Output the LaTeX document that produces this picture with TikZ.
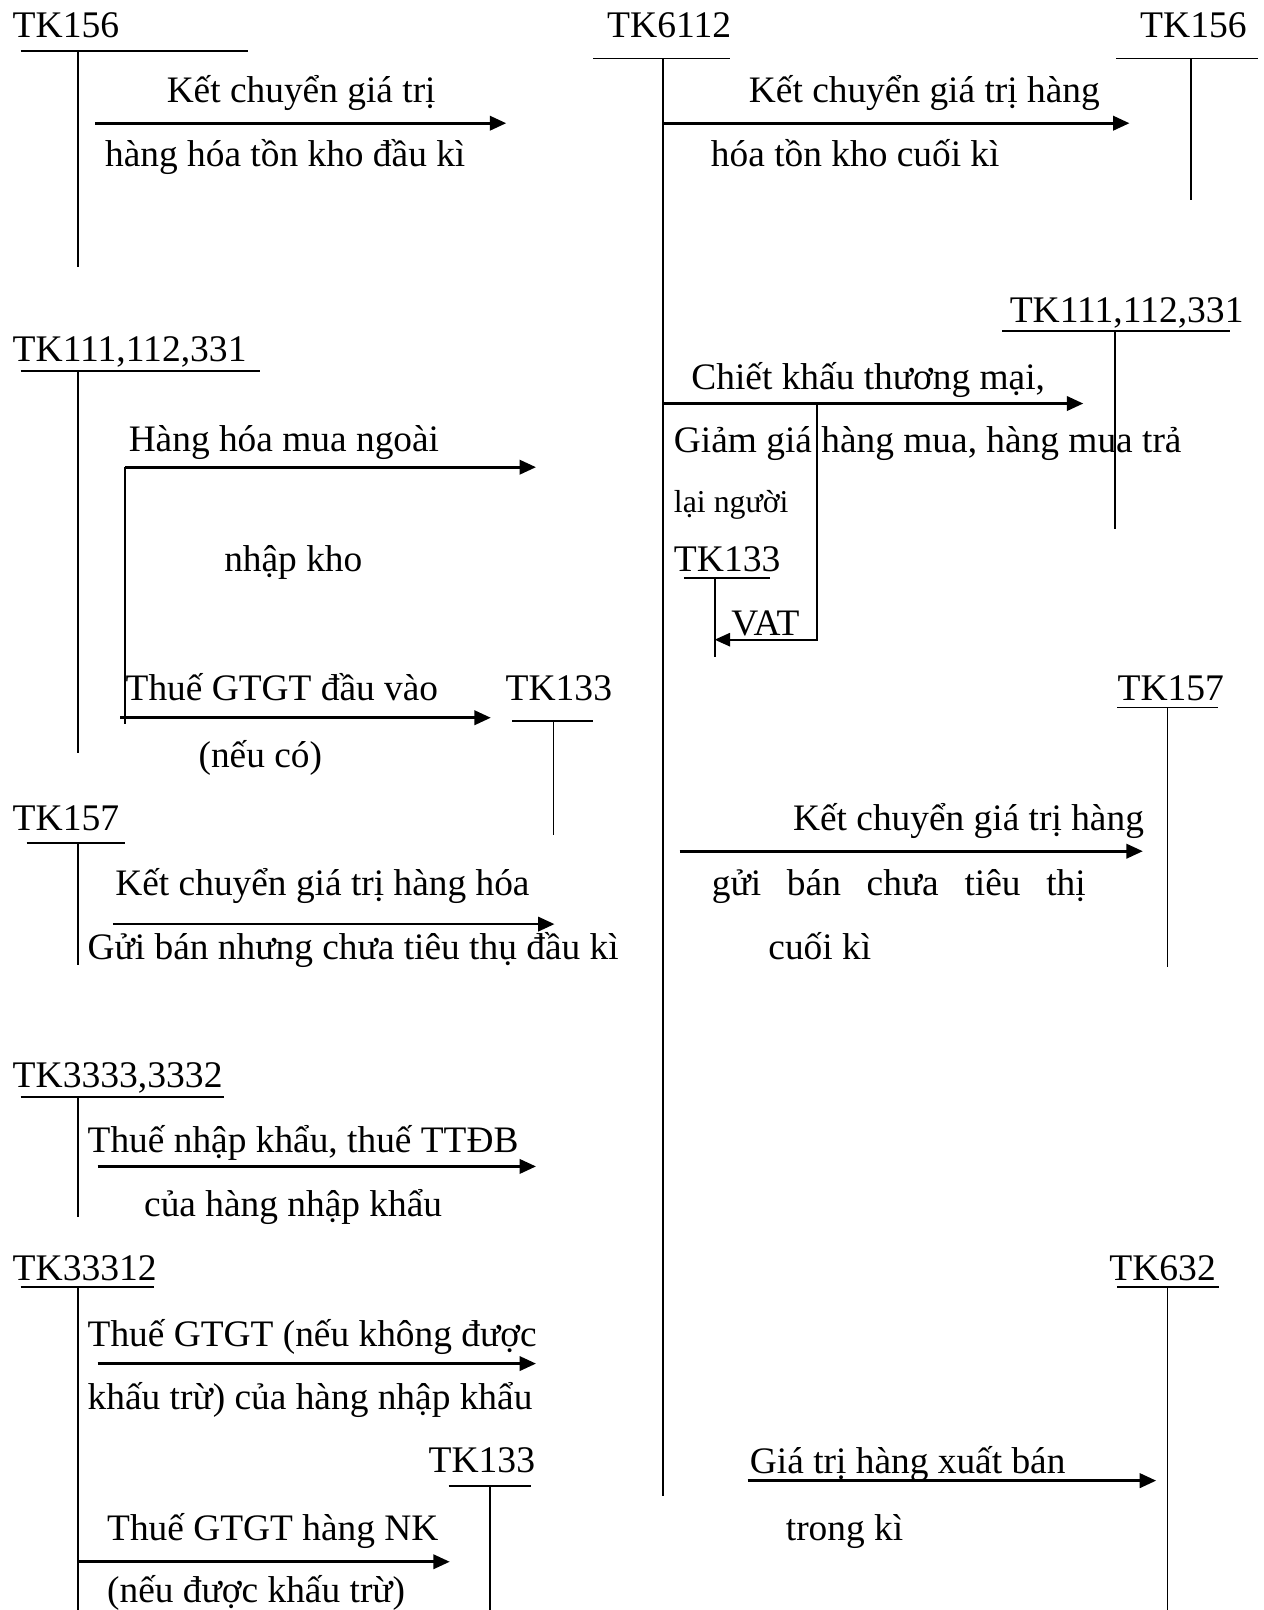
\documentclass[tikz,border=0pt]{standalone}
\usepackage{fontspec}
\setmainfont{Liberation Serif}
\usetikzlibrary{arrows.meta}
\tikzset{
  tk/name/.style={inner sep=0pt, anchor=base west, font=\fontsize{18.3}{21}\selectfont},
  tk/text/.style={inner sep=0pt, anchor=base west, font=\fontsize{18.2}{21}\selectfont},
  tk/small/.style={inner sep=0pt, anchor=base west, font=\fontsize{15.5}{17}\selectfont},
  tk/tline/.style={line width=0.9pt},
  tk/arrow/.style={-{Triangle[length=8pt,width=7pt]}, line width=1.3pt},
  tk/thinarrow/.style={-{Triangle[length=7.5pt,width=6.5pt]}, line width=0.9pt}
}

\begin{document}
\begin{tikzpicture}[x=0.5pt,y=-0.5pt]
  \useasboundingbox (0,0) rectangle (1231,1568);

  % account names
  \node[tk/name] (tk156a) at (12,37) {TK156};
  \node[tk/name] (tk6112) at (591,37) {TK6112};
  \node[tk/name] (tk156b) at (1110,37) {TK156};
  \node[tk/name] (tk111a) at (12,352) {TK111,112,331};
  \node[tk/name] (tk111b) at (983,314) {TK111,112,331};
  \node[tk/name] (tk133b) at (656,557) {TK133};
  \node[tk/name] (tk133a) at (492,682) {TK133};
  \node[tk/name] (tk157b) at (1088,682) {TK157};
  \node[tk/name] (tk157a) at (12,809) {TK157};
  \node[tk/name] (tk3333) at (12,1059) {TK3333,3332};
  \node[tk/name] (tk33312) at (12,1247) {TK33312};
  \node[tk/name] (tk632) at (1080,1247) {TK632};
  \node[tk/name] (tk133c) at (417,1434) {TK133};

  % T-account lines
  \draw[tk/tline] (20,50) -- (242,50) (76,50) -- (76,260);
  \draw[tk/tline] (578,57) -- (711,57) (646,57) -- (646,1457);
  \draw[tk/tline] (1087,57) -- (1225,57) (1160,57) -- (1160,195);
  \draw[tk/tline] (20,361) -- (253,361) (76,361) -- (76,733);
  \draw[tk/tline] (976,322) -- (1198,322) (1086,322) -- (1086,515);
  \draw[tk/tline] (666,563) -- (750,563) (696,563) -- (696,640);
  \draw[tk/tline] (499,702) -- (578,702) (539,702) -- (539,813);
  \draw[tk/tline] (1088,689) -- (1186,689) (1137,689) -- (1137,942);
  \draw[tk/tline] (26,821) -- (122,821) (76,821) -- (76,940);
  \draw[tk/tline] (20,1068) -- (218,1068) (76,1068) -- (76,1185);
  \draw[tk/tline] (20,1253) -- (150,1253) (76,1253) -- (76,1568);
  \draw[tk/tline] (1088,1253) -- (1187,1253) (1137,1253) -- (1137,1568);
  \draw[tk/tline] (437,1447) -- (517,1447) (477,1447) -- (477,1568);

  % arrow ends
  \coordinate (k1s) at (93,120);   \coordinate (k1e) at (493,120);
  \coordinate (k2s) at (646,120);  \coordinate (k2e) at (1100,120);
  \coordinate (m0) at (122,705);   \coordinate (m1) at (122,455);
  \coordinate (m1e) at (522,455);
  \coordinate (g1s) at (117,699);  \coordinate (g1e) at (478,699);
  \coordinate (c1s) at (646,393);  \coordinate (c1e) at (1055,393);
  \coordinate (v0) at (796,393);   \coordinate (v1) at (796,623);
  \coordinate (v1e) at (696,623);
  \coordinate (k3s) at (662,829);  \coordinate (k3e) at (1113,829);
  \coordinate (k4s) at (110,900);  \coordinate (k4e) at (540,900);
  \coordinate (n1s) at (95,1136);  \coordinate (n1e) at (522,1136);
  \coordinate (n2s) at (95,1328);  \coordinate (n2e) at (522,1328);
  \coordinate (n3s) at (76,1521);  \coordinate (n3e) at (438,1521);
  \coordinate (x1s) at (728,1442); \coordinate (x1e) at (1126,1442);

  % arrows
  \draw[tk/arrow] (k1s) -- (k1e);
  \draw[tk/arrow] (k2s) -- (k2e);
  \draw[tk/tline] (m0) -- (m1);
  \draw[tk/arrow] (m1) -- (m1e);
  \draw[tk/arrow] (g1s) -- (g1e);
  \draw[tk/arrow] (c1s) -- (c1e);
  \draw[tk/thinarrow] (v0) -- (v1) -- (v1e);
  \draw[tk/arrow] (k3s) -- (k3e);
  \draw[tk/arrow] (k4s) -- (k4e);
  \draw[tk/arrow] (n1s) -- (n1e);
  \draw[tk/arrow] (n2s) -- (n2e);
  \draw[tk/arrow] (n3s) -- (n3e);
  \draw[tk/arrow] (x1s) -- (x1e);

  % labels
  \node[tk/text] (t1) at (162,100) {Kết chuyển giá trị};
  \node[tk/text] (t2) at (102,162) {hàng hóa tồn kho đầu kì};
  \node[tk/text] (t3) at (729,100) {Kết chuyển giá trị hàng};
  \node[tk/text] (t4) at (692,162) {hóa tồn kho cuối kì};
  \node[tk/text] (t5) at (673,379) {Chiết khấu thương mại,};
  \node[tk/text] (t6) at (125,440) {Hàng hóa mua ngoài};
  \node[tk/text] (t7) at (656,441) {Giảm giá hàng mua, hàng mua trả};
  \node[tk/small] (t8) at (656,499) {lại người};
  \node[tk/text] (t9) at (218,557) {nhập kho};
  \node[tk/text] (t10) at (712,619) {VAT};
  \node[tk/text] (t11) at (122,682) {Thuế GTGT đầu vào};
  \node[tk/text] (t12) at (193,747) {(nếu có)};
  \node[tk/text] (t13) at (772,809) {Kết chuyển giá trị hàng};
  \node[tk/text] (t14) at (112,872) {Kết chuyển giá trị hàng hóa};
  \node[tk/text] (t15) at (693,872) {\makebox[182pt][s]{gửi bán chưa tiêu thị}};
  \node[tk/text] (t16) at (85,934) {Gửi bán nhưng chưa tiêu thụ đầu kì};
  \node[tk/text] (t17) at (748,934) {cuối kì};
  \node[tk/text] (t18) at (85,1122) {Thuế nhập khẩu, thuế TTĐB};
  \node[tk/text] (t19) at (140,1185) {của hàng nhập khẩu};
  \node[tk/text] (t20) at (85,1311) {Thuế GTGT (nếu không được};
  \node[tk/text] (t21) at (85,1373) {khấu trừ) của hàng nhập khẩu};
  \node[tk/text] (t22) at (730,1435) {Giá trị hàng xuất bán};
  \node[tk/text] (t23) at (104,1500) {Thuế GTGT hàng NK};
  \node[tk/text] (t24) at (765,1500) {trong kì};
  \node[tk/text] (t25) at (104,1561) {(nếu được khấu trừ)};
\end{tikzpicture}
\end{document}
